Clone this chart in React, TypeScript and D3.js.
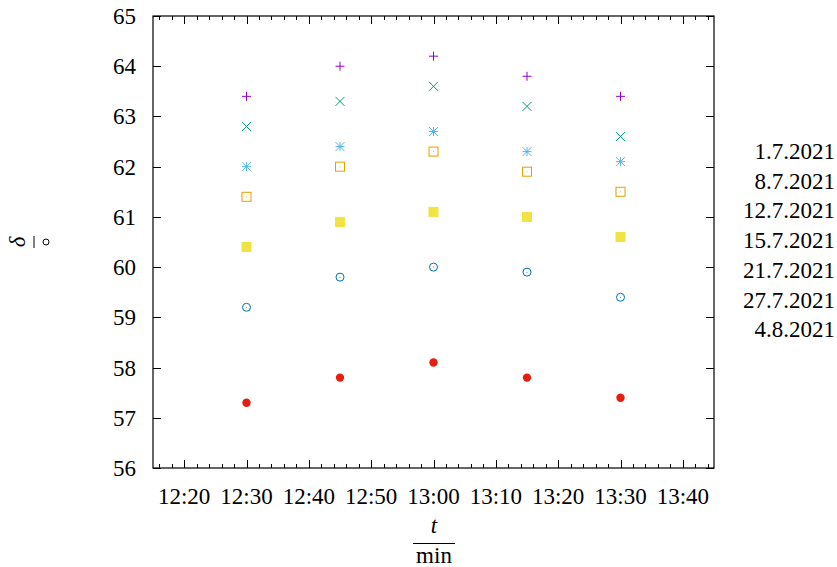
import React, { useRef, useEffect } from 'react';
import * as d3 from 'd3';

// measurement times (x) and angle delta in degrees, one array per day
const times = ['12:30', '12:45', '13:00', '13:15', '13:30'];
const days = ['1.7.2021', '8.7.2021', '12.7.2021', '15.7.2021', '21.7.2021', '27.7.2021', '4.8.2021'];
const d0107 = [63.4, 64.0, 64.2, 63.8, 63.4];
const d0807 = [62.8, 63.3, 63.6, 63.2, 62.6];
const d1207 = [62.0, 62.4, 62.7, 62.3, 62.1];
const d1507 = [61.4, 62.0, 62.3, 61.9, 61.5];
const d2107 = [60.4, 60.9, 61.1, 61.0, 60.6];
const d2707 = [59.2, 59.8, 60.0, 59.9, 59.4];
const d0408 = [57.3, 57.8, 58.1, 57.8, 57.4];
const xTicks = ['12:20', '12:30', '12:40', '12:50', '13:00', '13:10', '13:20', '13:30', '13:40'];
const yTicks = [56, 57, 58, 59, 60, 61, 62, 63, 64, 65];

const colors = ['#9400d3', '#009e73', '#56b4e9', '#e69f00', '#f0e442', '#0072b2', '#e51e10'];
const shapes = ['plus', 'cross', 'star', 'square', 'fsquare', 'circle', 'fcircle'];

const font = 'Liberation Serif';

const App = () => {
  const svgRef = useRef<SVGSVGElement>(null);

  useEffect(() => {
    const series = [d0107, d0807, d1207, d1507, d2107, d2707, d0408];
    const parse = d3.timeParse('%H:%M');
    const fmt = d3.timeFormat('%H:%M');
    const margin = { top: 16, left: 153 };
    const width = 561;
    const height = 452;

    d3.select(svgRef.current).selectAll('*').remove();
    const svg = d3.select(svgRef.current).style('font-family', font);
    const g = svg.append('g').attr('transform', `translate(${margin.left},${margin.top})`);

    const x = d3.scaleTime()
      .domain([parse('12:15') as Date, parse('13:45') as Date])
      .range([0, width]);
    const y = d3.scaleLinear().domain([56, 65]).range([height, 0]);

    // minor ticks every 2 min
    const minor = d3.timeMinute.every(2)!.range(parse('12:16') as Date, parse('13:45') as Date);
    const majors = xTicks.map(s => parse(s) as Date);

    const ticks = g.append('g').attr('stroke', '#000').attr('stroke-width', 1);
    minor.forEach(d => {
      const isMajor = majors.some(m => +m === +d);
      const len = isMajor ? 8 : 4;
      const px = Math.round(x(d)) + 0.5;
      ticks.append('line').attr('x1', px).attr('x2', px).attr('y1', height).attr('y2', height - len);
      ticks.append('line').attr('x1', px).attr('x2', px).attr('y1', 0).attr('y2', len);
    });
    yTicks.forEach(v => {
      const py = Math.round(y(v)) + 0.5;
      ticks.append('line').attr('x1', 0).attr('x2', 8).attr('y1', py).attr('y2', py);
      ticks.append('line').attr('x1', width).attr('x2', width - 8).attr('y1', py).attr('y2', py);
    });

    g.append('rect')
      .attr('x', 0).attr('y', 0).attr('width', width).attr('height', height)
      .attr('fill', 'none').attr('stroke', '#000').attr('stroke-width', 1.2);

    // tick labels
    g.selectAll('.xl').data(majors).enter().append('text')
      .attr('x', d => x(d)).attr('y', height + 36)
      .attr('text-anchor', 'middle').attr('font-size', 23)
      .text(d => fmt(d));
    g.selectAll('.yl').data(yTicks).enter().append('text')
      .attr('x', -17).attr('y', d => y(d) + 8)
      .attr('text-anchor', 'end').attr('font-size', 23)
      .text(d => d);

    // axis titles
    const xt = svg.append('g').attr('transform', 'translate(434,0)').attr('font-size', 23);
    xt.append('text').attr('y', 533).attr('text-anchor', 'middle').attr('font-style', 'italic').text('t');
    xt.append('line').attr('x1', -21).attr('x2', 21).attr('y1', 543.5).attr('y2', 543.5).attr('stroke', '#000').attr('stroke-width', 1);
    xt.append('text').attr('y', 563).attr('text-anchor', 'middle').text('min');

    const yt = svg.append('g').attr('transform', 'translate(34,242) rotate(-90)').attr('font-size', 23);
    yt.append('text').attr('y', -9).attr('text-anchor', 'middle').attr('font-style', 'italic').text('δ');
    yt.append('line').attr('x1', -6).attr('x2', 6).attr('y1', 0).attr('y2', 0).attr('stroke', '#000').attr('stroke-width', 1);
    yt.append('circle').attr('cx', 0).attr('cy', 12).attr('r', 3).attr('fill', 'none').attr('stroke', '#000').attr('stroke-width', 1);

    // points
    const r = 4.5;
    series.forEach((vals, i) => {
      const c = colors[i];
      const shape = shapes[i];
      vals.forEach((v, j) => {
        const px = x(parse(times[j]) as Date);
        const py = y(v);
        const p = g.append('g').attr('transform', `translate(${px},${py})`)
          .attr('stroke', c).attr('stroke-width', 1).attr('fill', 'none');
        if (shape === 'plus' || shape === 'star') {
          p.append('line').attr('x1', -r).attr('x2', r).attr('y1', 0).attr('y2', 0);
          p.append('line').attr('x1', 0).attr('x2', 0).attr('y1', -r).attr('y2', r);
        }
        if (shape === 'cross' || shape === 'star') {
          p.append('line').attr('x1', -r).attr('x2', r).attr('y1', -r).attr('y2', r);
          p.append('line').attr('x1', -r).attr('x2', r).attr('y1', r).attr('y2', -r);
        }
        if (shape === 'square') {
          p.append('rect').attr('x', -r).attr('y', -r).attr('width', 2 * r).attr('height', 2 * r);
          p.append('circle').attr('r', 0.5).attr('fill', c).attr('stroke', 'none');
        }
        if (shape === 'fsquare') {
          p.append('rect').attr('x', -r).attr('y', -r).attr('width', 2 * r).attr('height', 2 * r).attr('fill', c);
        }
        if (shape === 'circle') {
          p.append('circle').attr('r', 4);
          p.append('circle').attr('r', 0.5).attr('fill', c).attr('stroke', 'none');
        }
        if (shape === 'fcircle') {
          p.append('circle').attr('r', 4.2).attr('fill', c).attr('stroke', 'none');
        }
      });
    });

    // legend (labels only)
    svg.selectAll('.lg').data(days).enter().append('text')
      .attr('x', 835).attr('y', (d, i) => 159 + i * 29.7)
      .attr('text-anchor', 'end').attr('font-size', 23)
      .text(d => d);
  }, []);

  return <svg ref={svgRef} width={837} height={567} style={{ position: 'absolute', left: 0, top: 0 }} />;
};

export default App;
